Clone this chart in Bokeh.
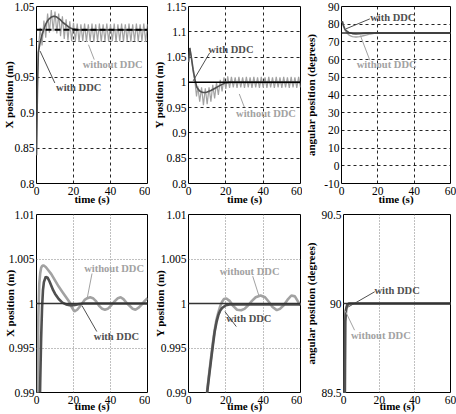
from bokeh.plotting import figure
from bokeh.layouts import column, row
from bokeh.models import Range1d, FixedTicker, Span
from bokeh.embed import file_html
from bokeh.resources import INLINE
from bokeh.core.properties import value

FONT = "'Liberation Serif', 'Times New Roman', serif"
DARK = "#505050"
LIGHT = "#a2a2a2"

# ---------------- data ----------------
x_ticks = [0, 20, 40, 60]

# Top-left: X position (m)
tl_yticks = [0.8, 0.85, 0.9, 0.95, 1.0, 1.05]
tl_ylabels = ["0.8", "0.85", "0.9", "0.95", "1", "1.05"]
tl_ref = 1.017
tl_t_with = [0, 0.5, 1, 2, 3, 4, 5, 6, 7, 8, 9, 10, 11, 12, 13, 14, 15, 16, 17, 18, 20, 22, 25, 30, 40, 50, 60]
tl_with = [0.84, 0.93, 0.985, 1.0, 1.01, 1.018, 1.025, 1.03, 1.033, 1.035, 1.036, 1.036, 1.035, 1.033,
           1.031, 1.028, 1.026, 1.024, 1.022, 1.02, 1.018, 1.017, 1.017, 1.017, 1.017, 1.017, 1.017]
tl_t_wo = [0, 0.5, 1, 2, 3, 4, 5, 6, 7, 8, 9, 10, 11, 12, 13, 14, 15, 16, 17, 18, 19, 20,
           21, 22, 23, 24, 25, 26, 27, 28, 29, 30, 31, 32, 33, 34, 35, 36, 37, 38, 39, 40,
           41, 42, 43, 44, 45, 46, 47, 48, 49, 50, 51, 52, 53, 54, 55, 56, 57, 58, 59, 60]
tl_wo = [0.84, 0.95, 0.99, 1.02, 0.995, 1.03, 1.006, 1.04, 1.013, 1.045, 1.015, 1.043, 1.012, 1.04,
         1.008, 1.036, 1.004, 1.032, 1.002, 1.029, 1.001, 1.027,
         1.001, 1.026, 1.0, 1.025, 1.001, 1.026, 1.0, 1.025, 1.001, 1.026, 1.0, 1.025, 1.001, 1.026,
         1.0, 1.025, 1.001, 1.026, 1.0, 1.025, 1.001, 1.026, 1.0, 1.025, 1.001, 1.026, 1.0, 1.025,
         1.001, 1.026, 1.0, 1.025, 1.001, 1.026, 1.0, 1.025, 1.001, 1.026, 1.0, 1.025]

# Top-middle: Y position (m)
tm_yticks = [0.8, 0.85, 0.9, 0.95, 1.0, 1.05, 1.1, 1.15]
tm_ylabels = ["0.8", "0.85", "0.9", "0.95", "1", "1.05", "1.1", "1.15"]
tm_ref = 1.0
tm_t_with = [0, 0.7, 1.5, 2.5, 3.5, 4.5, 6, 7, 8, 9, 10, 12, 14, 16, 18, 20, 22, 25, 30, 40, 50, 60]
tm_with = [1.04, 1.068, 1.05, 1.025, 1.005, 0.99, 0.983, 0.981, 0.98, 0.98, 0.981, 0.984, 0.988,
           0.992, 0.996, 0.999, 1.0, 1.0, 1.0, 1.0, 1.0, 1.0]
tm_t_wo = [0, 0.7, 1.5, 2.5, 3.5, 4.3, 5, 6, 7, 8, 9, 10, 11, 12, 13, 14, 15, 16, 17, 18, 19, 20,
           21, 22, 23, 24, 25, 26, 27, 28, 29, 30, 31, 32, 33, 34, 35, 36, 37, 38, 39, 40,
           41, 42, 43, 44, 45, 46, 47, 48, 49, 50, 51, 52, 53, 54, 55, 56, 57, 58, 59, 60]
tm_wo = [1.04, 1.068, 1.05, 1.02, 1.0, 0.972, 0.992, 0.962, 0.99, 0.955, 0.988, 0.957, 0.99, 0.962,
         0.995, 0.968, 1.0, 0.975, 1.005, 0.982, 1.01, 0.987,
         1.012, 0.989, 1.011, 0.99, 1.01, 0.989, 1.011, 0.99, 1.01, 0.989, 1.011, 0.99, 1.01, 0.989,
         1.011, 0.99, 1.01, 0.989, 1.011, 0.99, 1.01, 0.989, 1.011, 0.99, 1.01, 0.989, 1.011, 0.99,
         1.01, 0.989, 1.011, 0.99, 1.01, 0.989, 1.011, 0.99, 1.01, 0.989, 1.011, 0.99]

# Top-right: angular position (degrees)
tr_yticks = [-10, 0, 10, 20, 30, 40, 50, 60, 70, 80, 90]
tr_ylabels = ["-10", "0", "10", "20", "30", "40", "50", "60", "70", "80", "90"]
tr_ref = 75
tr_t_with = [0, 0.5, 1, 2, 3, 4, 6, 8, 10, 12, 15, 20, 30, 60]
tr_with = [81, 81.5, 79.5, 77, 76, 75.3, 74.7, 74.5, 74.6, 74.8, 75, 75, 75, 75]
tr_t_wo = [0, 0.5, 1, 2, 3, 4, 5, 6, 8, 10, 12, 14, 16, 18, 20, 25, 30, 60]
tr_wo = [81, 81.5, 79, 76.5, 75, 74, 73.4, 73, 72.8, 73, 73.5, 74, 74.5, 74.8, 75, 75, 75, 75]

# Bottom-left: X position (m), zoomed
bl_yticks = [0.99, 0.995, 1.0, 1.005, 1.01]
bl_ylabels = ["0.99", "0.995", "1", "1.005", "1.01"]
bl_ref = 1.0
bl_t_with = [0, 1.5, 2, 2.5, 3, 3.5, 4, 5, 6, 7, 8, 9, 10, 12, 14, 16, 18, 20, 22, 25, 30, 40, 50, 60]
bl_with = [0.97, 0.985, 0.991, 0.996, 0.9995, 1.0015, 1.0024, 1.003, 1.0029, 1.0025, 1.002, 1.0015,
           1.0011, 1.0005, 1.0001, 0.9999, 0.9998, 0.9998, 0.9999, 1.0, 1.0, 1.0, 1.0, 1.0]
bl_t_wo = [0, 0.5, 1, 1.5, 2, 2.5, 3, 3.7, 5, 6.5, 8, 10, 12, 14, 16, 18, 19, 20.5, 22, 24, 26, 27.5,
           29, 30.5, 32, 34, 35.5, 37, 38.5, 40, 42, 44, 45.5, 47, 49, 51, 52, 53.5, 55, 57, 58.5, 60]
bl_wo = [0.95, 0.985, 0.9985, 1.0022, 1.0034, 1.004, 1.0042, 1.0043, 1.0041, 1.0037, 1.0033, 1.0026,
         1.0019, 1.0013, 1.0007, 1.0001, 0.9996, 0.9991, 0.9993, 0.9998, 1.0004, 1.0006, 1.0007, 1.0006,
         1.0003, 0.9997, 0.9994, 0.9993, 0.9994, 0.9997, 1.0002, 1.0006, 1.0007, 1.0005, 1.0, 0.9996,
         0.9994, 0.9993, 0.9995, 0.9999, 1.0003, 1.0006]

# Bottom-middle: Y position (m), zoomed
bm_yticks = [0.99, 0.995, 1.0, 1.005, 1.01]
bm_ylabels = ["0.99", "0.995", "1", "1.005", "1.01"]
bm_ref = 1.0
bm_t_with = [0, 5, 8, 10, 11, 12, 13, 14, 15, 16, 17, 18, 20, 22, 25, 30, 40, 50, 60]
bm_with = [0.95, 0.97, 0.983, 0.99, 0.9918, 0.9935, 0.9952, 0.9968, 0.9979, 0.9987, 0.9992, 0.9995,
           0.9998, 0.9999, 0.9999, 0.9999, 0.9999, 0.9999, 0.9999]
bm_t_wo = [0, 5, 8, 10, 11, 12, 13, 14, 15, 16, 17, 18, 19, 20.3, 22, 24, 26, 28.2, 30, 32, 34, 36,
           38.6, 41, 43, 45, 47.3, 49, 51, 53, 55.1, 57, 59, 60]
bm_wo = [0.95, 0.97, 0.983, 0.9902, 0.992, 0.9938, 0.9955, 0.997, 0.9982, 0.999, 0.9997, 1.0002,
         1.0005, 1.00056, 1.0003, 0.9997, 0.9993, 0.99925, 0.9994, 0.9998, 1.0003, 1.0007, 1.0009,
         1.0007, 1.0002, 0.9996, 0.99925, 0.9994, 0.9998, 1.0004, 1.0009, 1.0008, 1.0001, 0.9998]

# Bottom-right: angular position (degrees), zoomed
br_yticks = [89.5, 90, 90.5]
br_ylabels = ["89.5", "90", "90.5"]
br_ref = 90
br_t_with = [0, 0.5, 1, 1.5, 2, 3, 5, 10, 60]
br_with = [88, 89, 89.9, 89.97, 89.99, 90.0, 90.0, 90.0, 90.0]
br_t_wo = [0, 0.5, 0.8, 1.2, 2, 3, 4, 60]
br_wo = [88, 89.3, 89.9, 89.96, 89.985, 89.995, 90, 90]

# annotations: (text, x, y, color, leader x0, y0, x1, y1)
tl_notes = [("without DDC", 25, 0.9685, LIGHT, 31.2, 0.975, 28.1, 0.996),
            ("with DDC", 10.6, 0.935, DARK, 9.9, 0.942, 1.95, 0.987)]
tm_notes = [("with DDC", 10.6, 1.065, DARK, 11.3, 1.058, 2.5, 1.003),
            ("without DDC", 25.5, 0.939, LIGHT, 29.9, 0.951, 27.2, 0.977)]
tr_notes = [("with DDC", 15.8, 83.9, DARK, 15.6, 83, 2.5, 77.4),
            ("without DDC", 8.4, 57, LIGHT, 15.6, 59.6, 10.4, 73.6)]
bl_notes = [("without DDC", 25.8, 1.0039, LIGHT, 30, 1.00337, 27.4, 1.00058),
            ("with DDC", 31, 0.9963, DARK, 32.6, 0.99685, 24.7, 0.99972)]
bm_notes = [("without DDC", 16.7, 1.0036, LIGHT, 34.4, 1.00307, 37.9, 1.00076),
            ("with DDC", 20.2, 0.99833, DARK, 25.6, 0.99741, 19.5, 0.99909)]
br_notes = [("with DDC", 17.4, 90.075, DARK, 17.5, 90.066, 2.6, 89.98),
            ("without DDC", 4.2, 89.82, LIGHT, 6.2, 89.85, 0.9, 89.96)]


def make_fig(width, height, bl, br, bt, bb, yr, yticks, ylabels, ylabel, top, y_std, x_std):
    p = figure(width=width, height=height, output_backend="svg", toolbar_location=None,
               x_range=Range1d(0, 60), y_range=Range1d(*yr),
               min_border_left=bl, min_border_right=br, min_border_top=bt, min_border_bottom=bb,
               background_fill_color="white", border_fill_color="white")
    p.outline_line_color = "black"
    p.outline_line_width = 1
    p.xaxis.ticker = FixedTicker(ticks=x_ticks)
    p.yaxis.ticker = FixedTicker(ticks=yticks)
    p.xgrid.ticker = FixedTicker(ticks=x_ticks)
    p.ygrid.ticker = FixedTicker(ticks=yticks)
    p.yaxis.major_label_overrides = dict(zip(yticks, ylabels))
    p.xaxis.axis_label = "time (s)"
    p.yaxis.axis_label = ylabel
    for ax in (p.xaxis, p.yaxis):
        ax.axis_line_color = None
        ax.major_tick_line_color = None
        ax.minor_tick_line_color = None
        ax.major_tick_out = 0
        ax.major_tick_in = 0
        ax.major_label_text_font = FONT
        ax.major_label_text_font_size = "11.5px"
        ax.major_label_text_color = "black"
        ax.axis_label_text_font = FONT
        ax.axis_label_text_font_size = "11px"
        ax.axis_label_text_font_style = "bold"
        ax.axis_label_text_color = "black"
    p.yaxis.major_label_standoff = 2
    p.xaxis.major_label_standoff = 3
    p.yaxis.axis_label_standoff = y_std
    p.xaxis.axis_label_standoff = x_std
    if top:
        p.grid.grid_line_color = "black"
        p.grid.grid_line_dash = "3 3"
        p.grid.grid_line_width = 1
        p.grid.grid_line_alpha = 0.85
    else:
        p.grid.grid_line_color = "#808080"
        p.grid.grid_line_dash = "1 2"
        p.grid.grid_line_width = 1
    return p


def add_notes(p, notes):
    txt = [n[0] for n in notes]
    xs = [n[1] for n in notes]
    ys = [n[2] for n in notes]
    cols = [n[3] for n in notes]
    p.segment(x0=[n[4] for n in notes], y0=[n[5] for n in notes],
              x1=[n[6] for n in notes], y1=[n[7] for n in notes],
              line_color=cols, line_width=1)
    p.text(x=xs, y=ys, text=txt, text_color=cols, text_font=value(FONT),
           text_font_style="bold", text_font_size="10.5px",
           text_baseline="middle", text_align="left")


W1, W2, W3 = 150, 152, 154
H1, H2 = 207, 207

# top row
p1 = make_fig(W1, H1, 33, 3, 6, 24, (0.8, 1.05), tl_yticks, tl_ylabels, "X position (m)", True, -4, -5)
p1.add_layout(Span(location=tl_ref, dimension="width", line_color="black", line_width=2, line_dash="6 3"))
p1.line(tl_t_wo, tl_wo, line_color=LIGHT, line_width=1.2)
p1.line(tl_t_with, tl_with, line_color=DARK, line_width=1.6)
add_notes(p1, tl_notes)

p2 = make_fig(W2, H1, 35, 2, 6, 24, (0.8, 1.15), tm_yticks, tm_ylabels, "Y position (m)", True, -2, -5)
p2.line(tm_t_wo, tm_wo, line_color=LIGHT, line_width=1.2)
p2.line(tm_t_with, tm_with, line_color=DARK, line_width=1.6)
p2.add_layout(Span(location=tm_ref, dimension="width", line_color="black", line_width=1.5))
add_notes(p2, tm_notes)

p3 = make_fig(W3, H1, 34, 6, 6, 24, (-10, 90), tr_yticks, tr_ylabels, "angular position (degrees)", True, 4, -5)
p3.add_layout(Span(location=tr_ref, dimension="width", line_color="#333333", line_width=1.5))
p3.line(tr_t_wo, tr_wo, line_color=LIGHT, line_width=1.4)
p3.line(tr_t_with, tr_with, line_color=DARK, line_width=1.6)
add_notes(p3, tr_notes)

# bottom row
p4 = make_fig(W1, H2, 33, 3, 7, 21, (0.99, 1.01), bl_yticks, bl_ylabels, "X position (m)", False, -10, -7)
p4.add_layout(Span(location=bl_ref, dimension="width", line_color="#333333", line_width=1.5))
p4.line(bl_t_wo, bl_wo, line_color=LIGHT, line_width=2.6)
p4.line(bl_t_with, bl_with, line_color=DARK, line_width=2.6)
add_notes(p4, bl_notes)

p5 = make_fig(W2, H2, 35, 2, 7, 21, (0.99, 1.01), bm_yticks, bm_ylabels, "Y position (m)", False, -8, -7)
p5.add_layout(Span(location=bm_ref, dimension="width", line_color="#333333", line_width=1.5))
p5.line(bm_t_wo, bm_wo, line_color=LIGHT, line_width=2.6)
p5.line(bm_t_with, bm_with, line_color=DARK, line_width=2.6)
add_notes(p5, bm_notes)

p6 = make_fig(W3, H2, 34, 6, 7, 21, (89.5, 90.5), br_yticks, br_ylabels, "angular position (degrees)", False, 1, -7)
p6.add_layout(Span(location=br_ref, dimension="width", line_color="#333333", line_width=1.5))
p6.line(br_t_wo, br_wo, line_color=LIGHT, line_width=2.6)
p6.line(br_t_with, br_with, line_color=DARK, line_width=2.6)
add_notes(p6, br_notes)

layout = column(row(p1, p2, p3), row(p4, p5, p6))

with open("out.html", "w") as f:
    f.write(file_html(layout, INLINE))
